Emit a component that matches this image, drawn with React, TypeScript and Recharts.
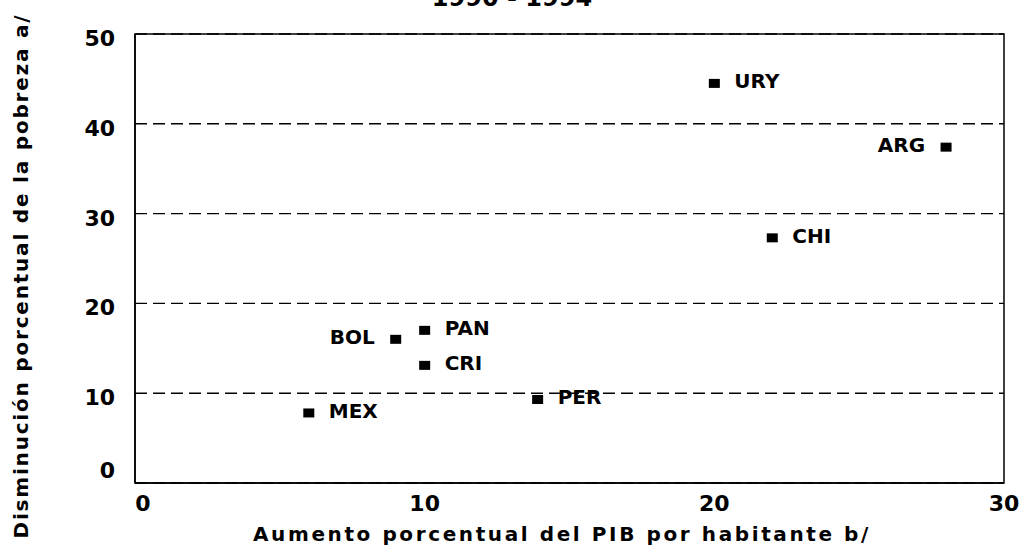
import React from 'react'
import { ScatterChart, Scatter, XAxis, YAxis, CartesianGrid, ReferenceArea } from 'recharts'

const countries = ['URY', 'ARG', 'CHI', 'PAN', 'BOL', 'CRI', 'PER', 'MEX']
const pibGrowth = [20, 28, 22, 10, 9, 10, 13.9, 6]
const povertyDrop = [44.5, 37.4, 27.3, 17, 16, 13.1, 9.3, 7.8]
const xTicks = [0, 10, 20, 30]
const yTicks = [0, 10, 20, 30, 40, 50]
const leftLabelled = ['BOL', 'ARG']

const data = countries.map((c, i) => ({ name: c, x: pibGrowth[i], y: povertyDrop[i] }))

const FONT = '"DejaVu Sans", sans-serif'

const Marker = (props: any) => {
  const { cx, cy, payload } = props
  const left = leftLabelled.includes(payload.name)
  return (
    <g>
      <rect x={cx - 5.5} y={cy - 4.5} width={11} height={9} fill="#000" />
      <text
        x={left ? cx - 21 : cx + 20}
        y={cy - 2}
        dy="0.35em"
        textAnchor={left ? 'end' : 'start'}
        fontFamily={FONT}
        fontWeight="bold"
        fontSize={20}
        fill="#000"
      >
        {payload.name}
      </text>
    </g>
  )
}

const XTick = ({ x, y, payload }: any) => (
  <text x={payload.value === 0 ? x + 8 : x} y={y + 20} textAnchor="middle"
    fontFamily={FONT} fontWeight="bold" fontSize={22} fill="#000">
    {payload.value}
  </text>
)

const YTick = ({ x, y, payload }: any) => (
  <text x={x - 12} y={payload.value === 0 ? y - 5 : y + 12} textAnchor="end"
    fontFamily={FONT} fontWeight="bold" fontSize={22} fill="#000">
    {payload.value}
  </text>
)

export default function App() {
  return (
    <div style={{ position: 'absolute', left: 0, top: 0, width: 1024, height: 552, background: '#fff', overflow: 'hidden' }}>
      <div style={{ position: 'absolute', left: 0, width: 1024, top: -14, lineHeight: '24px', textAlign: 'center', fontFamily: FONT, fontWeight: 'bold', fontSize: 24, color: '#000' }}>
        1990 - 1994
      </div>
      <ScatterChart width={1024} height={552} margin={{ top: 34, right: 20, bottom: 0, left: 60 }}>
        <CartesianGrid horizontal vertical={false} stroke="#000" strokeWidth={1.4} strokeDasharray="12 6" />
        <XAxis
          type="number"
          dataKey="x"
          domain={[0, 30]}
          ticks={xTicks}
          tick={<XTick />}
          tickLine={false}
          axisLine={{ stroke: '#000', strokeWidth: 1.5 }}
          height={69}
          label={{
            content: () => (
              <text x={562} y={541} textAnchor="middle" fontFamily={FONT} fontWeight="bold" fontSize={20} letterSpacing={2.6} fill="#000">
                Aumento porcentual del PIB por habitante b/
              </text>
            ),
          }}
        />
        <YAxis
          type="number"
          dataKey="y"
          domain={[0, 50]}
          ticks={yTicks}
          tick={<YTick />}
          tickLine={false}
          axisLine={{ stroke: '#000', strokeWidth: 1.5 }}
          width={75}
          label={{
            content: () => (
              <text x={28} y={276} transform="rotate(-90 28 276)" textAnchor="middle" fontFamily={FONT} fontWeight="bold" fontSize={20} letterSpacing={1.8} fill="#000">
                Disminución porcentual de la pobreza a/
              </text>
            ),
          }}
        />
        <ReferenceArea x1={0} x2={30} y1={0} y2={50} fill="none" stroke="#000" strokeWidth={1.5} ifOverflow="visible" />
        <Scatter data={data} shape={<Marker />} isAnimationActive={false} />
      </ScatterChart>
    </div>
  )
}
